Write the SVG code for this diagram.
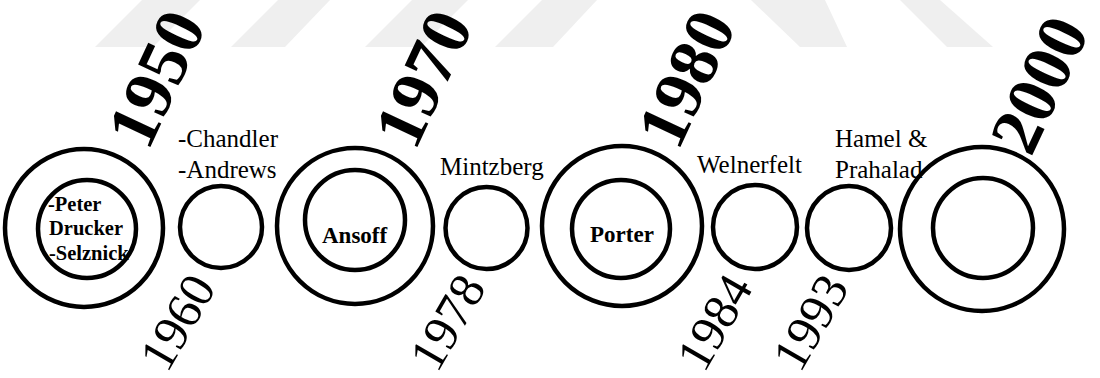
<svg xmlns="http://www.w3.org/2000/svg" width="1100" height="378" viewBox="0 0 1100 378">
  <style>
    .ring { fill: none; stroke: #000; stroke-width: 4.5; }
    .big { font-family: "Liberation Serif", "Times New Roman", serif; font-weight: bold; font-size: 70px; fill: #000; }
    .yr { font-family: "Liberation Serif", "Times New Roman", serif; font-size: 50px; fill: #000; }
    .lbl { font-family: "Liberation Serif", "Times New Roman", serif; font-size: 25px; fill: #000; }
    .in { font-family: "Liberation Serif", "Times New Roman", serif; font-weight: bold; font-size: 23px; fill: #000; }
    .in2 { font-family: "Liberation Serif", "Times New Roman", serif; font-weight: bold; font-size: 20.5px; fill: #000; }
    .wm { fill: #efefef; }
  </style>
  <rect width="1100" height="378" fill="#fff"/>
  <g id="watermark">
    <polygon class="wm" points="95,47 142,0 200,0 153,47"/>
    <polygon class="wm" points="231,47 278,0 330,0 285,47"/>
    <polygon class="wm" points="365,47 412,0 468,0 421,47"/>
    <polygon class="wm" points="495,47 542,0 597,0 553,47"/>
    <polygon class="wm" points="751,0 825,0 847,47 800,47"/>
    <polygon class="wm" points="900,0 940,0 993,47 947,47"/>
  </g>
  <g id="connectors"></g>
  <g id="n1950">
    <circle class="ring" cx="84" cy="228" r="79"/>
    <circle class="ring" cx="87" cy="229" r="49"/>
    <text class="in2" x="48" y="211">-Peter</text>
    <text class="in2" x="49" y="235">Drucker</text>
    <text class="in2" x="49" y="260">-Selznick</text>
    <text class="big" transform="translate(148,152) rotate(-65)">1950</text>
  </g>
  <g id="n1960">
    <circle class="ring" cx="221" cy="227" r="41"/>
    <text class="lbl" x="178" y="147">-Chandler</text>
    <text class="lbl" x="178" y="178">-Andrews</text>
    <text class="yr" transform="translate(167,374) rotate(-60)">1960</text>
  </g>
  <g id="n1970">
    <circle class="ring" cx="355" cy="226" r="78"/>
    <circle class="ring" cx="355" cy="220" r="50"/>
    <text class="in" x="322" y="243">Ansoff</text>
    <text class="big" transform="translate(415,152) rotate(-65)">1970</text>
  </g>
  <g id="n1978">
    <circle class="ring" cx="486.5" cy="228" r="41"/>
    <text class="lbl" x="440" y="175">Mintzberg</text>
    <text class="yr" transform="translate(437,374) rotate(-60)">1978</text>
  </g>
  <g id="n1980">
    <circle class="ring" cx="622" cy="226" r="80"/>
    <circle class="ring" cx="621" cy="229" r="49"/>
    <text class="in" x="590" y="242">Porter</text>
    <text class="big" transform="translate(678,152) rotate(-65)">1980</text>
  </g>
  <g id="n1984">
    <circle class="ring" cx="755" cy="227" r="42"/>
    <text class="lbl" x="697" y="173">Welnerfelt</text>
    <text class="yr" transform="translate(704,374) rotate(-60)">1984</text>
  </g>
  <g id="n1993">
    <circle class="ring" cx="849" cy="228" r="42"/>
    <text class="lbl" x="835" y="147">Hamel &amp;</text>
    <text class="lbl" x="835" y="178">Prahalad</text>
    <text class="yr" transform="translate(800,374) rotate(-60)">1993</text>
  </g>
  <g id="n2000">
    <circle class="ring" cx="982" cy="229" r="82"/>
    <circle class="ring" cx="983" cy="228" r="50"/>
    <text class="big" transform="translate(1031,158) rotate(-65)">2000</text>
  </g>
</svg>
